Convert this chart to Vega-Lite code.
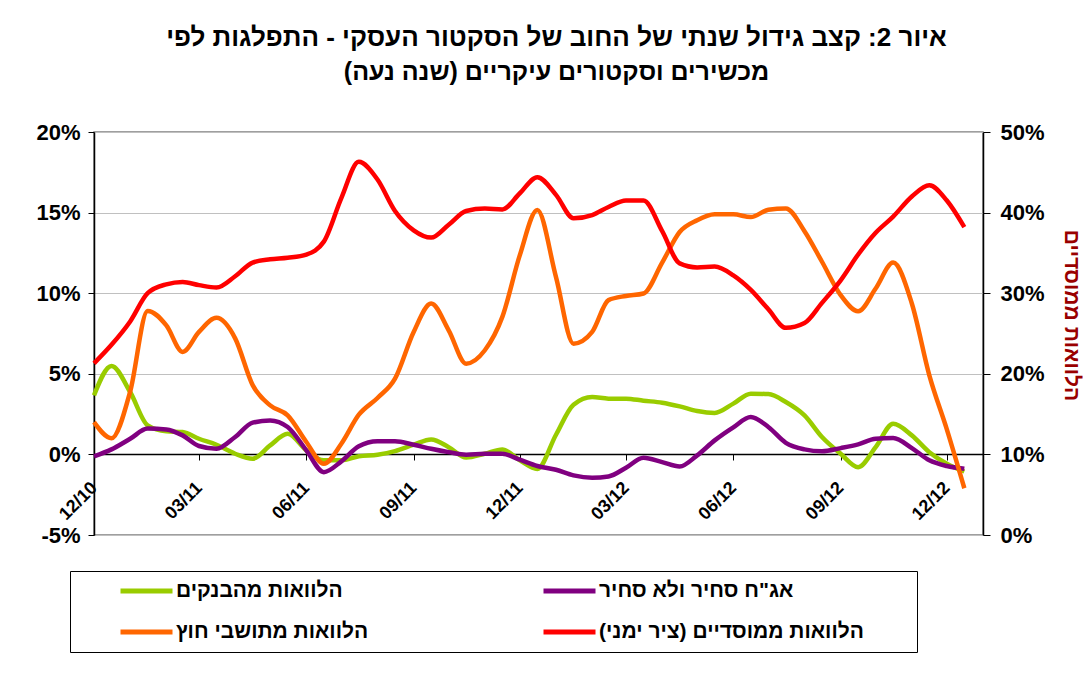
{
  "$schema": "https://vega.github.io/schema/vega-lite/v6.json",
  "width": 889,
  "height": 403,
  "autosize": {"type": "none"},
  "padding": {"left": 94, "top": 132, "right": 100, "bottom": 151},
  "background": "white",
  "config": {
    "font": "Liberation Sans",
    "view": {"stroke": "#808080", "strokeWidth": 1.5},
    "axis": {"labelFont": "Liberation Sans", "labelFontWeight": "bold", "labelColor": "black", "domainColor": "black", "tickColor": "black", "titleFont": "Liberation Sans"}
  },
  "title": {
    "text": "איור 2: קצב גידול שנתי של החוב של הסקטור העסקי - התפלגות לפי",
    "subtitle": "מכשירים וסקטורים עיקריים (שנה נעה)‏",
    "anchor": "middle",
    "frame": "group",
    "dx": 18,
    "offset": 36,
    "font": "Liberation Sans",
    "fontSize": 26,
    "fontWeight": "bold",
    "color": "black",
    "subtitleFont": "Liberation Sans",
    "subtitleFontSize": 25,
    "subtitleFontWeight": "bold",
    "subtitleColor": "black",
    "subtitlePadding": 9
  },
  "data": {
    "values": [
      {"date": "2010-12-01", "banks": 3.66, "bonds": -0.12, "foreign": 2.0, "inst": 21.3},
      {"date": "2010-12-16", "banks": 5.49, "bonds": 0.31, "foreign": 1.0, "inst": 23.6},
      {"date": "2011-01-01", "banks": 3.87, "bonds": 0.97, "foreign": 3.9, "inst": 26.5},
      {"date": "2011-01-16", "banks": 1.8, "bonds": 1.6, "foreign": 8.9, "inst": 30.0},
      {"date": "2011-02-01", "banks": 1.43, "bonds": 1.55, "foreign": 8.0, "inst": 31.1},
      {"date": "2011-02-15", "banks": 1.39, "bonds": 1.18, "foreign": 6.36, "inst": 31.4},
      {"date": "2011-03-01", "banks": 0.97, "bonds": 0.52, "foreign": 7.6, "inst": 31.0},
      {"date": "2011-03-16", "banks": 0.6, "bonds": 0.35, "foreign": 8.47, "inst": 30.7},
      {"date": "2011-04-01", "banks": 0.04, "bonds": 1.08, "foreign": 7.2, "inst": 32.1},
      {"date": "2011-04-16", "banks": -0.27, "bonds": 1.97, "foreign": 4.3, "inst": 33.8},
      {"date": "2011-05-01", "banks": 0.56, "bonds": 2.11, "foreign": 3.04, "inst": 34.2},
      {"date": "2011-05-16", "banks": 1.28, "bonds": 1.7, "foreign": 2.42, "inst": 34.4},
      {"date": "2011-06-01", "banks": 0.25, "bonds": 0.25, "foreign": 0.77, "inst": 34.8},
      {"date": "2011-06-16", "banks": -0.37, "bonds": -1.1, "foreign": -0.58, "inst": 36.4},
      {"date": "2011-07-01", "banks": -0.37, "bonds": -0.43, "foreign": 0.66, "inst": 41.8},
      {"date": "2011-07-16", "banks": -0.12, "bonds": 0.5, "foreign": 2.46, "inst": 46.3},
      {"date": "2011-08-01", "banks": -0.02, "bonds": 0.81, "foreign": 3.5, "inst": 44.1},
      {"date": "2011-08-16", "banks": 0.2, "bonds": 0.81, "foreign": 4.7, "inst": 40.2},
      {"date": "2011-09-01", "banks": 0.6, "bonds": 0.6, "foreign": 7.6, "inst": 37.8},
      {"date": "2011-09-16", "banks": 0.93, "bonds": 0.35, "foreign": 9.36, "inst": 36.9},
      {"date": "2011-10-01", "banks": 0.45, "bonds": 0.14, "foreign": 7.7, "inst": 38.5},
      {"date": "2011-10-16", "banks": -0.2, "bonds": -0.02, "foreign": 5.63, "inst": 40.2},
      {"date": "2011-11-01", "banks": 0.04, "bonds": 0.04, "foreign": 6.46, "inst": 40.5},
      {"date": "2011-11-16", "banks": 0.31, "bonds": 0.04, "foreign": 8.53, "inst": 40.4},
      {"date": "2011-12-01", "banks": -0.37, "bonds": -0.33, "foreign": 12.36, "inst": 42.4},
      {"date": "2011-12-16", "banks": -0.9, "bonds": -0.72, "foreign": 15.16, "inst": 44.4},
      {"date": "2012-01-01", "banks": 1.22, "bonds": -0.95, "foreign": 11.0, "inst": 42.2},
      {"date": "2012-01-16", "banks": 3.08, "bonds": -1.3, "foreign": 6.87, "inst": 39.3},
      {"date": "2012-02-01", "banks": 3.56, "bonds": -1.45, "foreign": 7.6, "inst": 39.7},
      {"date": "2012-02-15", "banks": 3.46, "bonds": -1.37, "foreign": 9.57, "inst": 40.7},
      {"date": "2012-03-01", "banks": 3.46, "bonds": -0.83, "foreign": 9.83, "inst": 41.5},
      {"date": "2012-03-16", "banks": 3.33, "bonds": -0.21, "foreign": 9.98, "inst": 41.5},
      {"date": "2012-04-01", "banks": 3.21, "bonds": -0.48, "foreign": 11.9, "inst": 37.7},
      {"date": "2012-04-16", "banks": 2.98, "bonds": -0.75, "foreign": 13.8, "inst": 33.7},
      {"date": "2012-05-01", "banks": 2.69, "bonds": -0.06, "foreign": 14.53, "inst": 33.2},
      {"date": "2012-05-16", "banks": 2.57, "bonds": 0.87, "foreign": 14.89, "inst": 33.3},
      {"date": "2012-06-01", "banks": 3.15, "bonds": 1.68, "foreign": 14.89, "inst": 32.2},
      {"date": "2012-06-16", "banks": 3.77, "bonds": 2.32, "foreign": 14.72, "inst": 30.4},
      {"date": "2012-07-01", "banks": 3.74, "bonds": 1.7, "foreign": 15.18, "inst": 28.0},
      {"date": "2012-07-16", "banks": 3.25, "bonds": 0.72, "foreign": 15.26, "inst": 25.7},
      {"date": "2012-08-01", "banks": 2.42, "bonds": 0.31, "foreign": 13.85, "inst": 26.3},
      {"date": "2012-08-16", "banks": 1.08, "bonds": 0.19, "foreign": 11.95, "inst": 28.8},
      {"date": "2012-09-01", "banks": 0.04, "bonds": 0.39, "foreign": 9.88, "inst": 31.6},
      {"date": "2012-09-16", "banks": -0.79, "bonds": 0.62, "foreign": 8.88, "inst": 34.8},
      {"date": "2012-10-01", "banks": 0.45, "bonds": 0.97, "foreign": 10.29, "inst": 37.5},
      {"date": "2012-10-16", "banks": 1.9, "bonds": 1.01, "foreign": 11.9, "inst": 39.5},
      {"date": "2012-11-01", "banks": 1.18, "bonds": 0.39, "foreign": 9.36, "inst": 42.0},
      {"date": "2012-11-16", "banks": 0.14, "bonds": -0.37, "foreign": 4.9, "inst": 43.4},
      {"date": "2012-12-01", "banks": -0.58, "bonds": -0.72, "foreign": 1.55, "inst": 41.5},
      {"date": "2012-12-16", "banks": -1.06, "bonds": -0.89, "foreign": -2.1, "inst": 38.2}
    ]
  },
  "transform": [
    {"fold": ["banks", "bonds", "foreign", "inst"], "as": ["series", "value"]}
  ],
  "encoding": {
    "x": {
      "field": "date",
      "type": "temporal",
      "scale": {
        "type": "utc",
        "domain": [
          {"year": 2010, "month": 12, "date": 1, "utc": true},
          {"year": 2013, "month": 1, "date": 1, "utc": true}
        ]
      },
      "axis": {
        "title": null,
        "offset": -81,
        "grid": false,
        "values": [
          {"year": 2010, "month": 12, "date": 1, "utc": true},
          {"year": 2011, "month": 3, "date": 1, "utc": true},
          {"year": 2011, "month": 6, "date": 1, "utc": true},
          {"year": 2011, "month": 9, "date": 1, "utc": true},
          {"year": 2011, "month": 12, "date": 1, "utc": true},
          {"year": 2012, "month": 3, "date": 1, "utc": true},
          {"year": 2012, "month": 6, "date": 1, "utc": true},
          {"year": 2012, "month": 9, "date": 1, "utc": true},
          {"year": 2012, "month": 12, "date": 1, "utc": true}
        ],
        "format": "%m/%y",
        "labelAngle": -45,
        "labelAlign": "right",
        "labelBaseline": "middle",
        "labelFontSize": 18,
        "labelPadding": 25,
        "labelFlush": false,
        "labelOverlap": false,
        "tickSize": 6,
        "domainWidth": 1.5
      }
    },
    "color": {
      "field": "series",
      "type": "nominal",
      "scale": {
        "domain": ["banks", "bonds", "foreign", "inst"],
        "range": ["#99CC00", "#800080", "#FF6600", "#FF0000"]
      },
      "legend": {
        "title": null,
        "orient": "none",
        "legendX": -24,
        "legendY": 439,
        "direction": "horizontal",
        "columns": 2,
        "strokeColor": "black",
        "fillColor": "white",
        "padding": 8,
        "symbolType": "stroke",
        "symbolSize": 2704,
        "symbolStrokeWidth": 5,
        "symbolOffset": 40,
        "labelOffset": 1,
        "clipHeight": 24,
        "rowPadding": 17,
        "columnPadding": 132,
        "labelFont": "Liberation Sans",
        "labelFontWeight": "bold",
        "labelFontSize": 21,
        "labelColor": "black",
        "labelLimit": 500,
        "labelExpr": "datum.label == 'banks' ? 'הלוואות מהבנקים' : datum.label == 'bonds' ? 'אג\"ח סחיר ולא סחיר' : datum.label == 'foreign' ? 'הלוואות מתושבי חוץ' : 'הלוואות ממוסדיים (ציר ימני)\u200f\u2800\u2800\u2800'"
      }
    }
  },
  "layer": [
    {
      "transform": [{"filter": "datum.series != 'inst'"}],
      "mark": {"type": "line", "strokeWidth": 4.5, "interpolate": "monotone"},
      "encoding": {
        "y": {
          "field": "value",
          "type": "quantitative",
          "scale": {"domain": [-5, 20], "nice": false, "zero": false},
          "axis": {
            "title": null,
            "values": [-5, 0, 5, 10, 15, 20],
            "labelExpr": "datum.value + '%'",
            "labelFontSize": 22,
            "labelPadding": 8,
            "tickSize": 6,
            "grid": true,
            "gridColor": "#c0c0c0",
            "gridWidth": 1,
            "domainWidth": 1.5
          }
        }
      }
    },
    {
      "transform": [{"filter": "datum.series == 'inst'"}],
      "mark": {"type": "line", "strokeWidth": 4.5, "interpolate": "monotone"},
      "encoding": {
        "y": {
          "field": "value",
          "type": "quantitative",
          "scale": {"domain": [0, 50], "nice": false, "zero": false},
          "axis": {
            "orient": "right",
            "title": "הלוואות ממוסדיים",
            "titleColor": "#990000",
            "titleFontSize": 21,
            "titleFontWeight": "bold",
            "titleAngle": 90,
            "titleAlign": "center",
            "titleBaseline": "middle",
            "titleX": 87,
            "titleY": 183,
            "values": [0, 10, 20, 30, 40, 50],
            "labelExpr": "datum.value + '%'",
            "labelFontSize": 22,
            "labelPadding": 10,
            "tickSize": 7,
            "grid": false,
            "domainWidth": 1.5
          }
        }
      }
    }
  ],
  "resolve": {"scale": {"y": "independent"}}
}
